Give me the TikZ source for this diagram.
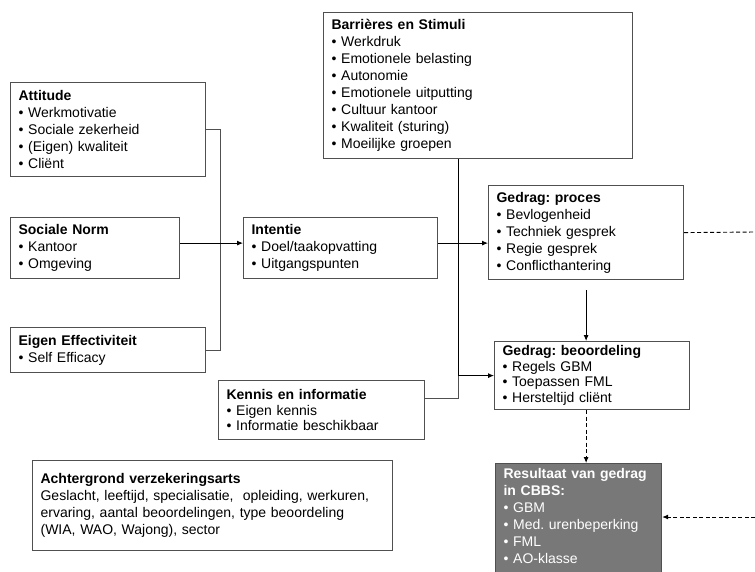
\documentclass[tikz,border=0pt]{standalone}
\usepackage{fontspec}
\setmainfont{Liberation Sans}
\usetikzlibrary{arrows.meta}
\definecolor{randgrijs}{HTML}{505050}
\definecolor{vulgrijs}{HTML}{787878}
\newcommand{\bul}{\textbullet\ }
\frenchspacing

\begin{document}
\begin{tikzpicture}[x=1pt,y=-1pt,
    blok/.style={draw=randgrijs, line width=1.2pt, anchor=north west, align=left,
        inner xsep=8pt, inner ysep=5pt, font=\fontsize{14pt}{17pt}\selectfont},
    dicht/.style={inner ysep=3pt, font=\fontsize{14pt}{15.5pt}\selectfont},
    lijn/.style={line width=0.9pt},
    pijl/.style={line width=0.9pt, -{Latex[length=6pt,width=5pt]}},
    stip/.style={dash pattern=on 4pt off 2.5pt}]
        \clip (0,0) rectangle (755,571);

        \node[blok, text width=179pt, minimum height=94pt] (att) at (10,82)
            {\textbf{Attitude}\\ \bul Werkmotivatie\\ \bul Sociale zekerheid\\ \bul (Eigen) kwaliteit\\ \bul Cliënt};
        \node[blok, text width=153pt, minimum height=61pt] (norm) at (10,217)
            {\textbf{Sociale Norm}\\ \bul Kantoor\\ \bul Omgeving};
        \node[blok, text width=179pt, minimum height=45pt] (eff) at (10,327)
            {\textbf{Eigen Effectiviteit}\\ \bul Self Efficacy};
        \node[blok, text width=178pt, minimum height=61pt] (int) at (243,217)
            {\textbf{Intentie}\\ \bul Doel/taakopvatting\\ \bul Uitgangspunten};
        \node[blok, text width=293pt, minimum height=146pt] (bar) at (323,12)
            {\textbf{Barrières en Stimuli}\\ \bul Werkdruk\\ \bul Emotionele belasting\\ \bul Autonomie\\
             \bul Emotionele uitputting\\ \bul Cultuur kantoor\\ \bul Kwaliteit (sturing)\\ \bul Moeilijke groepen};
        \node[blok, text width=179pt, minimum height=94pt] (proc) at (488,185)
            {\textbf{Gedrag: proces}\\ \bul Bevlogenheid\\ \bul Techniek gesprek\\ \bul Regie gesprek\\ \bul Conflicthantering};
        \node[blok, dicht, text width=179pt, minimum height=68pt] (beo) at (494,341)
            {\textbf{Gedrag: beoordeling}\\ \bul Regels GBM\\ \bul Toepassen FML\\ \bul Hersteltijd cliënt};
        \node[blok, dicht, text width=190pt, minimum height=59pt] (ken) at (218,380)
            {\textbf{Kennis en informatie}\\ \bul Eigen kennis\\ \bul Informatie beschikbaar};
        \node[blok, text width=344pt, minimum height=90pt] (acht) at (32,460)
            {\textbf{Achtergrond verzekeringsarts}\\ Geslacht, leeftijd, specialisatie,\ \ opleiding, werkuren,\\
             ervaring, aantal beoordelingen, type beoordeling\\ (WIA, WAO, Wajong), sector};
        \node[blok, fill=vulgrijs, text=white, text width=150pt] (res) at (495,463)
            {\textbf{Resultaat van gedrag}\\ \textbf{in CBBS:}\\ \bul GBM\\ \bul Med. urenbeperking\\ \bul FML\\ \bul AO-klasse\\ \mbox{}};

        % verbindingen
        \coordinate (knoop) at (458,0);
        \coordinate (kenuit) at ([yshift=11.5pt]ken.east);
        \coordinate (rand1) at (755,232);
        \coordinate (rand2) at (755,517);

        \draw[lijn, draw=randgrijs] (att.east) -- ++(14,0) |- (eff.east);
        \draw[pijl] ([yshift=5pt]norm.east) -- ([yshift=5pt]norm.east -| int.west);
        \draw[pijl] ([yshift=5pt]int.east) -- ([yshift=5pt]int.east -| proc.west);
        \draw[lijn] (bar.south -| knoop) -- (knoop |- beo.west);
        \draw[pijl] (knoop |- beo.west) -- (beo.west);
        \draw[lijn, draw=randgrijs] (knoop |- beo.west) -- (knoop |- kenuit) -- (kenuit);
        \draw[pijl, shorten <=10pt] (proc.south) -- (proc.south |- beo.north);
        \draw[pijl, stip] (beo.south -| proc.south) -- (res.north -| proc.south);
        \draw[lijn, stip] (proc.east) -- (rand1);
        \draw[pijl, stip] (rand2) -- (rand2 -| res.east);
\end{tikzpicture}
\end{document}
